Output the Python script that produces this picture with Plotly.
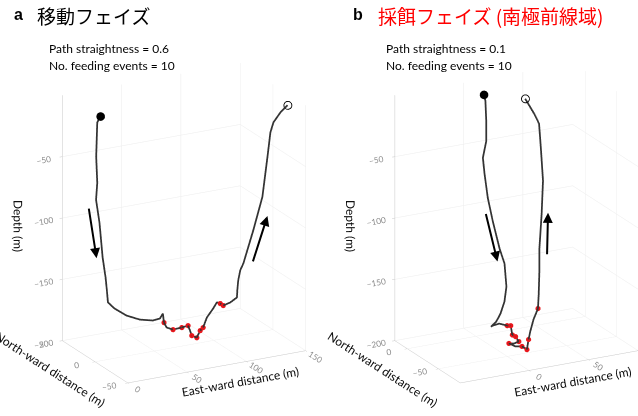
import plotly.graph_objects as go

# ---------------- Panel a: travelling phase ----------------
a_east = [21.2, 18.4, 17.5, 18.4, 17.4, 20.3, 22.9, 25.4, 26.5, 27.4,
          31.9, 39.7, 48.7, 57.5, 61.3,
          62.7, 62.5, 63.6, 67.9, 74.2, 78.4, 79.0, 79.3, 82.5, 84.2, 85.6,
          87.6, 91.9, 93.9, 95.6, 97.0, 101.9, 106.4, 105.6, 105.3, 105.9,
          108.0, 115.3, 121.8, 125.0, 126.9, 128.9, 134.6, 140.3]
a_north = [30, 30, 30, 30, 30, 30, 30, 30, 30, 30,
           28, 24, 20, 16, 12,
           10, 8, 6, 4, 2, 0, -2, -4, -6, -8, -10, -12, -14, -16, -18, -20,
           -22, -24, -26, -28, -30,
           -31, -33, -35, -37, -38, -39, -39.5, -40]
a_depth = [-14.0, -18.4, -46.1, -67.6, -81.4, -100.7, -129.1, -145.9, -156.7, -166.7,
           -171.8, -177.5, -181.0, -181.9, -179.6,
           -175.1, -181.7, -185.2, -187.0, -185.7, -184.2, -187.7, -191.1, -192.7,
           -186.5, -183.6, -175.2, -167.8, -162.5, -163.0, -164.2, -161.9, -157.9,
           -151.3, -142.3, -133.6,
           -127.9, -101.4, -74.8, -41.9, -22.1, -14.0, -6.6, -1.7]
a_feed_east = [62.5, 67.9, 74.2, 78.4, 79.3, 82.5, 84.2, 85.6, 95.6, 97.0]
a_feed_north = [8, 4, 2, 0, -4, -6, -8, -10, -18, -20]
a_feed_depth = [-181.7, -187.0, -185.7, -184.2, -191.1, -192.7, -186.5, -183.6, -163.0, -164.2]

# ---------------- Panel b: foraging phase ----------------
b_east = [1.4, 2.6, 2.8, 2.3, -1.1, -0.2, 2.0, 5.7, 10.8, 14.5,
          15.6, 13.4, 9.5, 5.3, 0.5, -0.4, 3.7, 8.8, 10.8, 11.1,
          12.8, 14.5, 10.3, 6.1, 9.5, 12.9, 15.0, 16.4, 18.4, 21.7,
          25.9, 27.6, 29.2, 30.3, 33.2, 35.4, 34.6, 34.2, 31.1, 24.6]
b_north = [-10, -10, -11, -12, -13, -14, -15, -16, -17, -18,
           -19, -20, -21, -22, -23, -27, -30, -33, -35, -37,
           -39, -41, -41, -41, -45, -49, -53, -53, -52, -51,
           -50, -48, -46, -44, -42, -40, -38, -36, -34, -32]
b_depth = [-0.1, -5.2, -21.4, -37.3, -50.0, -63.2, -82.7, -102.1, -124.6, -137.3,
           -156.1, -167.6, -176.5, -182.0, -184.8, -182.5, -180.5, -182.0, -181.7, -188.7,
           -189.7, -193.4, -194.3, -193.4, -195.2, -194.4, -196.1, -188.1, -182.1, -173.2,
           -165.5, -154.7, -136.9, -118.9, -92.5, -66.2, -39.4, -20.9, -12.9, -0.2]
b_feed_east = [8.8, 10.8, 11.1, 12.8, 14.5, 6.1, 12.9, 15.0, 16.4, 25.9]
b_feed_north = [-33, -35, -37, -39, -41, -41, -49, -53, -53, -50]
b_feed_depth = [-182.0, -181.7, -188.7, -189.7, -193.4, -193.4, -194.4, -196.1, -188.1, -165.5]

panels = [
    dict(scene="scene", east=a_east, north=a_north, depth=a_depth,
         fe=a_feed_east, fn=a_feed_north, fd=a_feed_depth),
    dict(scene="scene2", east=b_east, north=b_north, depth=b_depth,
         fe=b_feed_east, fn=b_feed_north, fd=b_feed_depth),
]

fig = go.Figure()
for p in panels:
    fig.add_trace(go.Scatter3d(x=p["east"], y=p["north"], z=p["depth"], mode="lines",
                               line=dict(color="#333333", width=3.5), scene=p["scene"],
                               showlegend=False, hoverinfo="skip"))
    fig.add_trace(go.Scatter3d(x=p["fe"], y=p["fn"], z=p["fd"], mode="markers",
                               marker=dict(color="#e8161b", size=3), scene=p["scene"],
                               showlegend=False, hoverinfo="skip"))
    fig.add_trace(go.Scatter3d(x=[p["east"][0]], y=[p["north"][0]], z=[p["depth"][0]],
                               mode="markers", marker=dict(color="black", size=5, symbol="circle"),
                               scene=p["scene"], showlegend=False, hoverinfo="skip"))
    fig.add_trace(go.Scatter3d(x=[p["east"][-1]], y=[p["north"][-1]], z=[p["depth"][-1]],
                               mode="markers",
                               marker=dict(color="black", size=5, symbol="circle-open"),
                               scene=p["scene"], showlegend=False, hoverinfo="skip"))


def axis(title, rng, tickvals):
    return dict(title=dict(text=title, font=dict(family="Lato", size=12, color="#111")),
                range=rng, tickvals=tickvals, showgrid=True, gridcolor="#ececec",
                gridwidth=1, zeroline=False, showbackground=False, showline=True,
                linecolor="#c8c8c8", ticks="outside", ticklen=3, tickcolor="#c8c8c8",
                tickfont=dict(family="Lato", size=10, color="#8a8a8a"), showspikes=False)


k = 2.0
e = (-0.44, -0.83, 0.342)
aspect = dict(x=1.043, y=0.724, z=1.353)


def camera(c):
    return dict(eye=dict(x=c[0] + e[0] * k, y=c[1] + e[1] * k, z=c[2] + e[2] * k),
                center=dict(x=c[0], y=c[1], z=c[2]), up=dict(x=0, y=0, z=1),
                projection=dict(type="orthographic"))


arrow = dict(text="", showarrow=True, arrowhead=2, arrowsize=1, arrowwidth=2,
             arrowcolor="black")

fig.update_layout(
    width=638, height=416, margin=dict(l=0, r=0, t=0, b=0),
    paper_bgcolor="white",
    scene=dict(domain=dict(x=[0.0, 0.577], y=[0.0, 0.928]),
               xaxis=axis("East-ward distance (m)", [0, 150], [0, 50, 100, 150]),
               yaxis=axis("North-ward distance (m)", [-50, 50], [-50, 0, 50]),
               zaxis=axis("Depth (m)", [-200, 0], [-200, -150, -100, -50]),
               aspectmode="manual", aspectratio=aspect, camera=camera((0, 0, 0)),
               bgcolor="rgba(0,0,0,0)",
               annotations=[
                   dict(x=17.8, y=30, z=-129, ax=-8, ay=-51, **arrow),
                   dict(x=127.1, y=-33, z=-92, ax=-15, ay=47, **arrow),
               ]),
    scene2=dict(domain=dict(x=[0.5, 1.0], y=[0.0, 0.928]),
                xaxis=axis("East-ward distance (m)", [-58, 92], [0, 50]),
                yaxis=axis("North-ward distance (m)", [-85, 20], [-50, 0]),
                zaxis=axis("Depth (m)", [-200, 0], [-200, -150, -100, -50]),
                aspectmode="manual", aspectratio=aspect,
                camera=camera((-0.174, 0.0921, 0)), bgcolor="rgba(0,0,0,0)",
                annotations=[
                    dict(x=8.6, y=-18, z=-134.7, ax=-12, ay=-49, **arrow),
                    dict(x=38.6, y=-42, z=-92.4, ax=-1, ay=43, **arrow),
                ]),
    annotations=[
        dict(x=12 / 638, y=1 - 15 / 416, xref="paper", yref="paper", xanchor="left",
             yanchor="middle", showarrow=False, text="<b>a</b>",
             font=dict(family="Liberation Sans", size=16, color="black")),
        dict(x=35 / 638, y=1 - 16 / 416, xref="paper", yref="paper", xanchor="left",
             yanchor="middle", showarrow=False, text="移動フェイズ",
             font=dict(family="Noto Sans CJK JP", size=19, color="black")),
        dict(x=47 / 638, y=1 - 48 / 416, xref="paper", yref="paper", xanchor="left",
             yanchor="middle", showarrow=False, text="Path straightness = 0.6",
             font=dict(family="Lato", size=12, color="black")),
        dict(x=47 / 638, y=1 - 65 / 416, xref="paper", yref="paper", xanchor="left",
             yanchor="middle", showarrow=False, text="No. feeding events = 10",
             font=dict(family="Lato", size=12, color="black")),
        dict(x=351 / 638, y=1 - 15 / 416, xref="paper", yref="paper", xanchor="left",
             yanchor="middle", showarrow=False, text="<b>b</b>",
             font=dict(family="Liberation Sans", size=16, color="black")),
        dict(x=376 / 638, y=1 - 16 / 416, xref="paper", yref="paper", xanchor="left",
             yanchor="middle", showarrow=False, text="採餌フェイズ (南極前線域)",
             font=dict(family="Noto Sans CJK JP", size=19, color="#ff0000")),
        dict(x=384 / 638, y=1 - 48 / 416, xref="paper", yref="paper", xanchor="left",
             yanchor="middle", showarrow=False, text="Path straightness = 0.1",
             font=dict(family="Lato", size=12, color="black")),
        dict(x=384 / 638, y=1 - 65 / 416, xref="paper", yref="paper", xanchor="left",
             yanchor="middle", showarrow=False, text="No. feeding events = 10",
             font=dict(family="Lato", size=12, color="black")),
    ],
)

fig.write_html("out.html", config={"displayModeBar": False},
               post_script="document.body.style.margin='0';document.body.style.padding='0';")
